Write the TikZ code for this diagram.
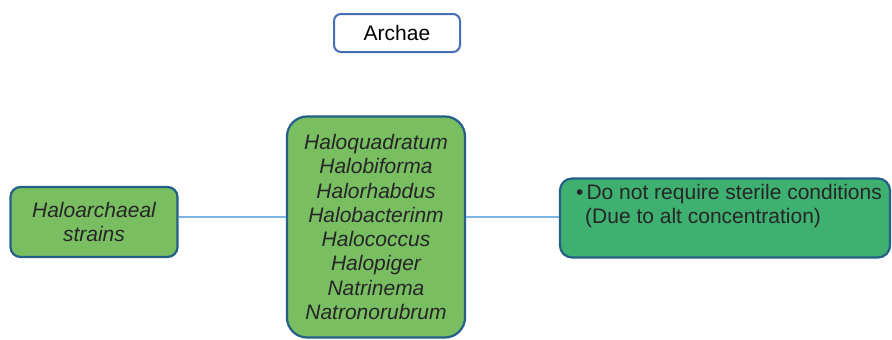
\documentclass[tikz,border=0pt]{standalone}
\usepackage{fontspec}
\setmainfont{Liberation Sans}
\begin{document}
\begin{tikzpicture}[x=1pt,y=-1pt,
  box/.style={draw=boxedge,line width=2.2pt,fill=leafgreen,rounded corners=10pt,font=\itshape\fontsize{21}{24.3}\selectfont,text=black!85,align=center,inner sep=0pt},
  link/.style={draw=linkblue,line width=1.4pt}]
\definecolor{boxedge}{RGB}{35,95,135}
\definecolor{leafgreen}{RGB}{122,190,98}
\definecolor{tealgreen}{RGB}{62,176,112}
\definecolor{linkblue}{RGB}{125,180,225}
\definecolor{titleedge}{RGB}{70,110,180}
\useasboundingbox (0,0) rectangle (892,340);
% title
\node[draw=titleedge,line width=2pt,fill=white,rounded corners=7pt,minimum width=126pt,minimum height=38pt,inner sep=0pt,font=\fontsize{21}{24}\selectfont] (archae) at (397,33) {Archae};
% three boxes
\node[box,minimum width=167pt,minimum height=70pt] (strains) at (94,222) {Haloarchaeal\\strains};
\node[box,rounded corners=20pt,minimum width=178pt,minimum height=221pt] (genera) at (376,227) {Haloquadratum\\Halobiforma\\Halorhabdus\\Halobacterinm\\Halococcus\\Halopiger\\Natrinema\\Natronorubrum};
\node[box,fill=tealgreen,rounded corners=12pt,minimum width=330pt,minimum height=79pt] (traits) at (725,218) {};
\node[anchor=north west,inner sep=0pt,font=\fontsize{21}{24.5}\selectfont,text=black!85,align=left] (traitstext) at (576,184) {\textbullet\hspace{3pt}Do not require sterile conditions\\\hspace{9pt}(Due to alt concentration)};
% connectors
\draw[link] (strains.east |- 0,217) -- (genera.west |- 0,217);
\draw[link] (genera.east |- 0,217) -- (traits.west |- 0,217);
\end{tikzpicture}
\end{document}
